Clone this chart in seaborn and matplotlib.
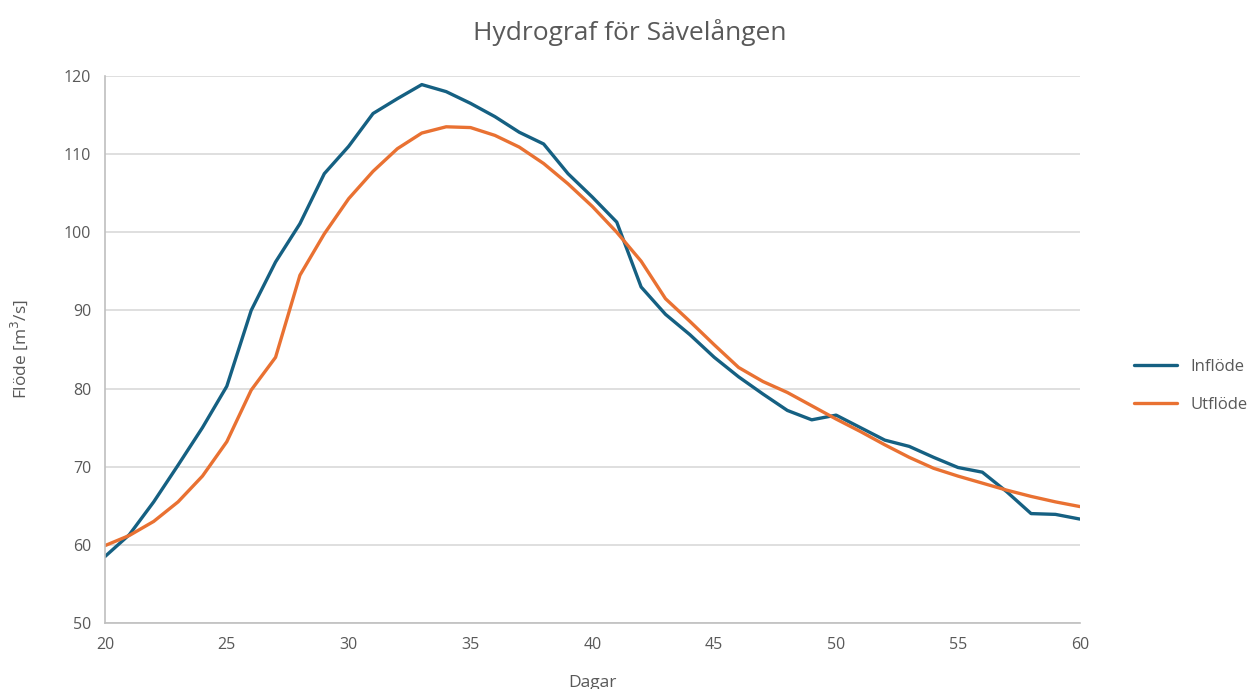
import matplotlib
matplotlib.use("Agg")
import matplotlib.pyplot as plt
import seaborn as sns
import pandas as pd

# dagliga flöden [m3/s]
dagar = list(range(20, 61))
inflode = [58.5, 61.3, 65.5, 70.2, 75.0, 80.3, 90.0, 96.2, 101.1, 107.5,
           111.0, 115.2, 117.1, 118.9, 118.0, 116.5, 114.8, 112.8, 111.3, 107.5,
           104.5, 101.3, 93.0, 89.5, 86.9, 84.0, 81.5, 79.3, 77.2, 76.0,
           76.6, 75.0, 73.4, 72.6, 71.2, 69.9, 69.3, 66.8, 64.0, 63.9,
           63.3]
utflode = [59.9, 61.2, 63.0, 65.5, 68.8, 73.2, 79.8, 84.0, 94.5, 99.8,
           104.3, 107.8, 110.7, 112.7, 113.5, 113.4, 112.4, 110.9, 108.8, 106.2,
           103.3, 100.0, 96.3, 91.5, 88.6, 85.6, 82.7, 80.9, 79.5, 77.8,
           76.1, 74.5, 72.8, 71.2, 69.8, 68.8, 67.9, 67.0, 66.2, 65.5,
           64.9]
serier = ["Inflöde", "Utflöde"]
farger = ["#156082", "#E97132"]

df = pd.DataFrame({"Dagar": dagar * 2,
                   "Flöde": inflode + utflode,
                   "Serie": [serier[0]] * len(dagar) + [serier[1]] * len(dagar)})

sns.set_style("white")
plt.rcParams['font.family'] = ['Open Sans', 'DejaVu Sans']
grey = "#595959"

fig = plt.figure(figsize=(12.6, 6.89), dpi=100)
ax = fig.add_axes([0.0833, 0.0958, 0.7737, 0.7939])

sns.lineplot(data=df, x="Dagar", y="Flöde", hue="Serie", palette=farger,
             linewidth=2.4, ax=ax)

ax.set_xlim(20, 60)
ax.set_ylim(50, 120)
ax.set_xticks(range(20, 61, 5))
ax.set_yticks(range(50, 121, 10))
ax.yaxis.grid(True, color="#d9d9d9", linewidth=1.2)
ax.xaxis.grid(False)
ax.tick_params(colors=grey, labelsize=11.5, length=0, pad=10)
for s in ["top", "right"]:
    ax.spines[s].set_visible(False)
for s in ["left", "bottom"]:
    ax.spines[s].set_color("#bfbfbf")
    ax.spines[s].set_linewidth(1.2)

ax.set_xlabel("Dagar", color=grey, fontsize=12.5, labelpad=16)
ax.set_ylabel("Flöde [m$^3$/s]", color=grey, fontsize=12.5, labelpad=24)
fig.suptitle("Hydrograf för Sävelången", color=grey, fontsize=19, y=0.972)

ax.legend(title=None, frameon=False, fontsize=12, loc="center left",
          bbox_to_anchor=(0.888, 0.44), bbox_transform=fig.transFigure,
          handlelength=2.6, labelspacing=1.35, labelcolor=grey)

fig.savefig("out.png", dpi=100)
